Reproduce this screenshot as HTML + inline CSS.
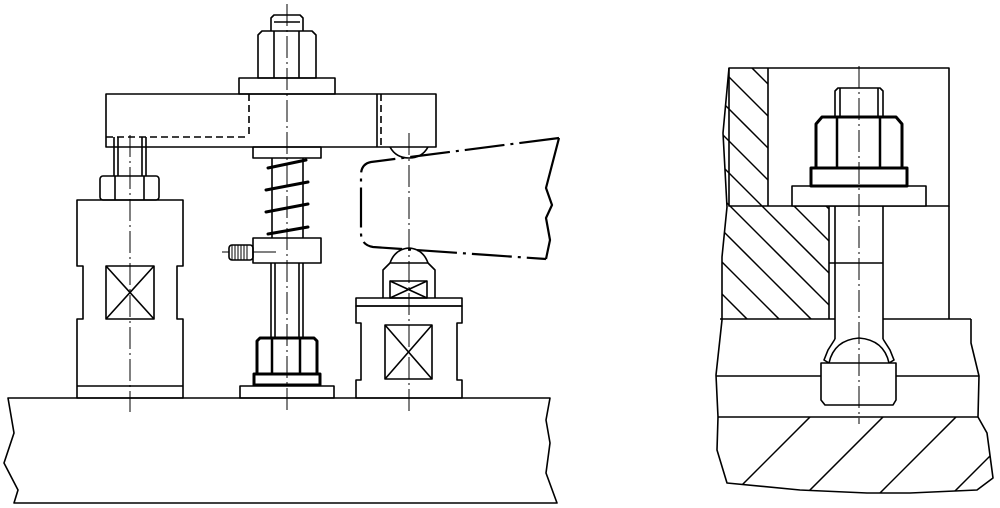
<!DOCTYPE html>
<html><head><meta charset="utf-8"><style>html,body{margin:0;padding:0;background:#fff;width:1000px;height:508px;overflow:hidden}svg{display:block}</style></head>
<body>
<svg width="1000" height="508" viewBox="0 0 1000 508" xmlns="http://www.w3.org/2000/svg" fill="none" stroke="#000" stroke-width="1.6" stroke-linejoin="round">
<defs>
<clipPath id="cw"><polygon points="729,68 768,68 768,206 829,206 829,319 722,319 722,257 727,207 723,133"/></clipPath>
<clipPath id="cb"><polygon points="718,417 978,417 987,433 993,478 977,490 910,493 867,493 800,490 727,483 717,450"/></clipPath>
</defs>
<g stroke="#000">
<!-- base -->
<polygon points="8,398 550,398 546,420 550,443 546,473 557,503 14,503 18,490 4,463 14,433" fill="#fff"/>
<!-- left support -->
<path d="M77,200 H183 V266 H177 V319 H183 V398 H77 V319 H83 V266 H77 Z"/>
<line x1="77" y1="386" x2="183" y2="386"/>
<rect x="106" y="266" width="48" height="53"/>
<line x1="106" y1="266" x2="154" y2="319"/><line x1="154" y1="266" x2="106" y2="319"/>
<rect x="100" y="176" width="59" height="24" rx="3"/>
<line x1="115" y1="176" x2="115" y2="200"/><line x1="144" y1="176" x2="144" y2="200"/>
<line x1="114" y1="137" x2="114" y2="176"/><line x1="118" y1="137" x2="118" y2="176"/>
<line x1="142" y1="137" x2="142" y2="176"/><line x1="146" y1="137" x2="146" y2="176"/>
<!-- beam -->
<rect x="106" y="94" width="330" height="53"/>
<line x1="377" y1="94" x2="377" y2="147"/>
<g stroke-dasharray="7,4"><line x1="249" y1="94" x2="249" y2="137"/><line x1="106" y1="137" x2="249" y2="137"/><line x1="381" y1="94" x2="381" y2="147"/></g>
<!-- top washer, nut, bolt -->
<rect x="239" y="78" width="96" height="16"/>
<path d="M258,78 V35 L262,31 H312 L316,35 V78 Z"/>
<line x1="274" y1="31" x2="274" y2="78"/><line x1="299" y1="31" x2="299" y2="78"/>
<path d="M271,31 V18 L274,15 H300 L303,18 V31"/>
<line x1="274" y1="22" x2="300" y2="22"/>
<!-- under-beam washer -->
<rect x="253" y="147" width="68" height="11"/>
<!-- spring rod -->
<line x1="272" y1="158" x2="272" y2="238"/><line x1="303" y1="158" x2="303" y2="238"/>
<g stroke-width="3" stroke-linecap="round">
<path d="M268,168 L306,160"/>
<path d="M266,190 L308,182"/>
<path d="M266,212 L308,204"/>
<path d="M268,234 L308,227"/>
</g>
<!-- collar -->
<rect x="253" y="238" width="68" height="25"/>
<rect x="229" y="245" width="24" height="15" rx="3"/>
<g stroke-width="1"><line x1="232" y1="245" x2="232" y2="260"/><line x1="235" y1="245" x2="235" y2="260"/><line x1="238" y1="245" x2="238" y2="260"/><line x1="241" y1="245" x2="241" y2="260"/><line x1="244" y1="245" x2="244" y2="260"/><line x1="247" y1="245" x2="247" y2="260"/><line x1="222" y1="252" x2="229" y2="252"/><line x1="253" y1="252" x2="276" y2="252"/></g>
<!-- rod below -->
<line x1="271" y1="263" x2="271" y2="338"/><line x1="275" y1="263" x2="275" y2="338"/>
<line x1="299" y1="263" x2="299" y2="338"/><line x1="303" y1="263" x2="303" y2="338"/>
<!-- bottom nut -->
<path d="M257,374 V341 L260,338 H314 L317,341 V374" stroke-width="3"/>
<line x1="272" y1="338" x2="272" y2="374" stroke-width="2.5"/><line x1="300" y1="338" x2="300" y2="374" stroke-width="2.5"/>
<rect x="254" y="374" width="66" height="11" stroke-width="3"/>
<rect x="240" y="386" width="94" height="12"/>
<!-- right support -->
<path d="M356,306 H462 V323 H457 V380 H462 V398 H356 V380 H361 V323 H356 Z"/>
<rect x="356" y="298" width="106" height="8"/>
<rect x="385" y="325" width="47" height="54"/>
<line x1="385" y1="325" x2="432" y2="379"/><line x1="432" y1="325" x2="385" y2="379"/>
<path d="M383,298 V270 L390,263 H428 L435,270 V298"/>
<path d="M390,263 Q395,249 409,248 Q423,249 428,263"/>
<rect x="390" y="281" width="37" height="17"/>
<line x1="390" y1="281" x2="427" y2="298"/><line x1="427" y1="281" x2="390" y2="298"/>
<!-- dome on beam -->
<path d="M390,147 Q396,158 409,158 Q422,158 428,147"/>
<!-- workpiece -->
<g stroke-width="2.2">
<path d="M559,138 L371,162 Q361,164 361,175 V233 Q361,245 373,247 L546,259" stroke-dasharray="40,6,3,6"/>
<path d="M559,138 L546,188 L552,205 L546,218 L550,240 L546,259"/>
</g>
<!-- centerlines -->
<g stroke-width="1" stroke-dasharray="22,4,2,4">
<line x1="130" y1="135" x2="130" y2="412"/>
<line x1="287" y1="4" x2="287" y2="413"/>
<line x1="409" y1="133" x2="409" y2="413"/>
</g>

<!-- ===== RIGHT DRAWING ===== -->
<g clip-path="url(#cw)" stroke-width="1.5">
<line x1="660" y1="40" x2="960" y2="340"/><line x1="660" y1="72" x2="960" y2="372"/><line x1="660" y1="104" x2="960" y2="404"/>
<line x1="660" y1="136" x2="960" y2="436"/><line x1="660" y1="168" x2="960" y2="468"/><line x1="660" y1="200" x2="960" y2="500"/>
<line x1="660" y1="232" x2="960" y2="532"/><line x1="660" y1="264" x2="960" y2="564"/><line x1="660" y1="8" x2="960" y2="308"/>
<line x1="660" y1="-24" x2="960" y2="276"/><line x1="660" y1="-56" x2="960" y2="244"/><line x1="660" y1="-88" x2="960" y2="212"/>
</g>
<g clip-path="url(#cb)" stroke-width="1.5">
<line x1="727" y1="500" x2="817" y2="410"/><line x1="800" y1="500" x2="890" y2="410"/><line x1="873" y1="500" x2="963" y2="410"/><line x1="946" y1="500" x2="1036" y2="410"/>
</g>
<polyline points="729,68 723,133 727,207 722,257 722,320 716,375 718,417 717,450 727,483 800,490 867,493 910,493 977,490 993,478 987,433 978,417 979,376 971,343 971,319"/>
<rect x="729" y="68" width="220" height="138" fill="none"/>
<line x1="768" y1="68" x2="768" y2="206"/>
<line x1="829" y1="206" x2="829" y2="319"/><line x1="883" y1="206" x2="883" y2="263"/>
<line x1="949" y1="206" x2="949" y2="319"/>
<line x1="720" y1="319" x2="835" y2="319"/><line x1="883" y1="319" x2="971" y2="319"/>
<line x1="716" y1="376" x2="821" y2="376"/><line x1="896" y1="376" x2="979" y2="376"/>
<line x1="718" y1="417" x2="978" y2="417"/>
<!-- bolt -->
<rect x="792" y="186" width="134" height="20" fill="#fff"/>
<rect x="811" y="168" width="96" height="18" stroke-width="3"/>
<path d="M816,168 V124 L822,117 H896 L902,124 V168" stroke-width="3"/>
<line x1="837" y1="117" x2="837" y2="168" stroke-width="2.5"/><line x1="880" y1="117" x2="880" y2="168" stroke-width="2.5"/>
<path d="M835,117 V91 L838,88 H880 L883,91 V117"/>
<line x1="840" y1="88" x2="840" y2="117"/><line x1="878" y1="88" x2="878" y2="117"/>
<line x1="835" y1="206" x2="835" y2="339"/><line x1="883" y1="263" x2="883" y2="339"/>
<line x1="829" y1="263" x2="883" y2="263"/>
<path d="M835,339 L828,350 L824,360 L829,363 M883,339 L890,350 L894,360 L889,363"/>
<path d="M829,363 Q834,340 859,338 Q884,340 889,363"/>
<path d="M821,363 H896 V400 L893,405 H825 L821,400 Z"/>
<line x1="859" y1="66" x2="859" y2="424" stroke-width="1" stroke-dasharray="22,4,2,4"/>
</g>
</svg>
</body></html>
